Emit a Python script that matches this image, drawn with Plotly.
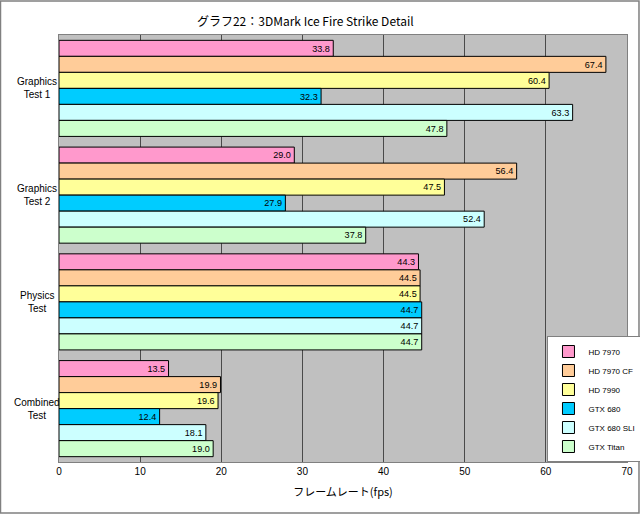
import plotly.graph_objects as go

tests = ["Graphics<br>Test 1", "Graphics<br>Test 2", "Physics<br>Test", "Combined<br>Test"]
cards = ["HD 7970", "HD 7970 CF", "HD 7990", "GTX 680", "GTX 680 SLI", "GTX Titan"]
colors = ["#FF99CC", "#FFCC99", "#FFFF99", "#00CCFF", "#CCFFFF", "#CCFFCC"]

hd7970 = [33.8, 29.0, 44.3, 13.5]
hd7970cf = [67.4, 56.4, 44.5, 19.9]
hd7990 = [60.4, 47.5, 44.5, 19.6]
gtx680 = [32.3, 27.9, 44.7, 12.4]
gtx680sli = [63.3, 52.4, 44.7, 18.1]
gtxtitan = [47.8, 37.8, 44.7, 19.0]
series = [hd7970, hd7970cf, hd7990, gtx680, gtx680sli, gtxtitan]

jp = "Noto Sans CJK JP"
latin = "Liberation Sans"

fig = go.Figure()
for name, vals, col in zip(cards, series, colors):
    fig.add_trace(go.Bar(
        y=tests, x=vals, name=name, orientation="h",
        marker=dict(color=col, line=dict(color="black", width=1)),
        texttemplate="%{x:.1f}", textposition="inside", insidetextanchor="end",
        textfont=dict(color="black", size=10, family=latin),
        textangle=0,
    ))

# category labels centered, like the original
for t in tests:
    fig.add_annotation(x=-0.039, xref="paper", y=t, yref="y", text=t,
                       showarrow=False, xanchor="center", align="center",
                       font=dict(size=10, family=latin, color="black"))

# outer frame of the picture
fig.add_shape(type="rect", xref="paper", yref="paper",
              x0=-0.1030, x1=1.0211, y0=-0.1194, y1=1.0796,
              line=dict(color="#808080", width=1.5))

fig.update_layout(
    width=640, height=514,
    margin=dict(l=59, r=13, t=35, b=52, autoexpand=False),
    paper_bgcolor="white", plot_bgcolor="#C0C0C0",
    barmode="group", bargap=0.1, bargroupgap=0,
    uniformtext=dict(mode="show", minsize=9),
    title=dict(text="グラフ22：3DMark Ice Fire Strike Detail", x=0.477, y=0.965,
               xanchor="center", font=dict(size=12, family=jp, color="black")),
    font=dict(family=latin, color="black"),
    legend=dict(x=0.86, y=0, xanchor="left", yanchor="bottom",
                bgcolor="white", bordercolor="#808080", borderwidth=1,
                font=dict(size=8, family=latin), traceorder="normal",
                itemwidth=30, tracegroupgap=0),
    xaxis=dict(range=[0, 70], dtick=10, showgrid=True, gridcolor="#4a4a4a",
               gridwidth=1, zeroline=False, showline=True, linecolor="#808080",
               mirror=True, tickfont=dict(size=10, family=latin),
               title=dict(text="フレームレート(fps)", font=dict(size=11, family=jp), standoff=12)),
    yaxis=dict(autorange="reversed", showticklabels=False, showline=True,
               linecolor="#808080", mirror=True, ticks=""),
)

fig.write_html("out.html", config={"displayModeBar": False},
               post_script="document.body.style.margin='0px';")
